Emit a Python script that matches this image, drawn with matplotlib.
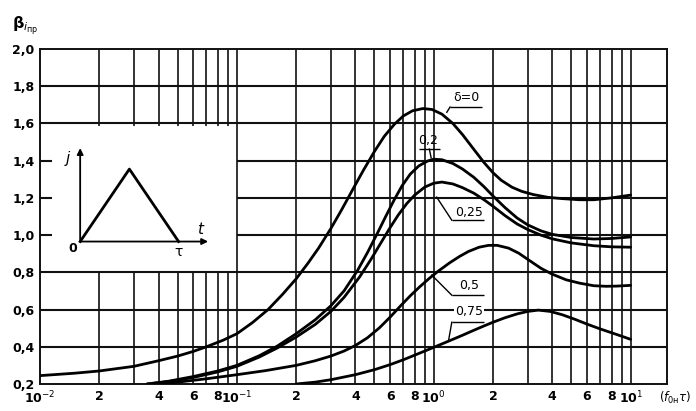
import matplotlib
matplotlib.use("Agg")
import matplotlib.pyplot as plt

# ---- curve data (x = f0*tau, y = beta) ------------------------------------
x_d0 = [0.01, 0.015, 0.02, 0.03, 0.04, 0.05, 0.06, 0.07, 0.085, 0.1, 0.12,
        0.144, 0.17, 0.2, 0.23, 0.26, 0.3, 0.34, 0.39, 0.44, 0.5, 0.56, 0.63,
        0.7, 0.78, 0.88, 0.98, 1.1, 1.25, 1.4, 1.6, 1.8, 2.0, 2.2, 2.5, 2.8,
        3.2, 3.8, 4.5, 5.5, 6.5, 8.0, 10.0]
y_d0 = [0.245, 0.258, 0.27, 0.295, 0.325, 0.35, 0.375, 0.40, 0.435, 0.47, 0.53,
        0.60, 0.68, 0.765, 0.85, 0.93, 1.035, 1.135, 1.25, 1.35, 1.45, 1.53,
        1.595, 1.64, 1.668, 1.68, 1.675, 1.65, 1.60, 1.54, 1.46, 1.39, 1.335,
        1.295, 1.257, 1.235, 1.218, 1.203, 1.196, 1.19, 1.19, 1.20, 1.215]

x_d02 = [0.035, 0.045, 0.06, 0.08, 0.1, 0.13, 0.16, 0.2, 0.25, 0.3, 0.35,
         0.41, 0.46, 0.52, 0.57, 0.63, 0.69, 0.76, 0.84, 0.93, 1.0, 1.1, 1.25,
         1.4, 1.6, 1.8, 2.0, 2.3, 2.65, 3.0, 3.5, 4.0, 5.0, 6.5, 8.0, 10.0]
y_d02 = [0.20, 0.215, 0.24, 0.27, 0.30, 0.352, 0.403, 0.47, 0.545, 0.62, 0.70,
         0.81, 0.905, 1.015, 1.10, 1.19, 1.265, 1.328, 1.372, 1.398, 1.408,
         1.405, 1.385, 1.355, 1.31, 1.26, 1.21, 1.148, 1.092, 1.055, 1.023,
         1.004, 0.987, 0.979, 0.982, 0.99]

x_d025 = [0.035, 0.045, 0.06, 0.08, 0.1, 0.13, 0.16, 0.2, 0.25, 0.3, 0.35,
          0.42, 0.48, 0.54, 0.6, 0.66, 0.73, 0.8, 0.9, 1.0, 1.1, 1.25, 1.4,
          1.6, 1.8, 2.0, 2.3, 2.65, 3.0, 3.5, 4.0, 5.0, 6.5, 8.0, 10.0]
y_d025 = [0.20, 0.213, 0.235, 0.265, 0.295, 0.345, 0.393, 0.452, 0.52, 0.59,
          0.665, 0.775, 0.87, 0.96, 1.04, 1.108, 1.17, 1.215, 1.258, 1.279,
          1.285, 1.275, 1.255, 1.225, 1.19, 1.155, 1.105, 1.06, 1.03, 1.00,
          0.98, 0.958, 0.943, 0.937, 0.935]

x_d05 = [0.04, 0.05, 0.07, 0.1, 0.14, 0.2, 0.25, 0.3, 0.35, 0.4, 0.46, 0.53,
         0.6, 0.68, 0.76, 0.85, 0.95, 1.05, 1.2, 1.35, 1.5, 1.7, 1.9, 2.1,
         2.4, 2.7, 3.0, 3.5, 4.0, 4.7, 5.5, 6.5, 7.5, 8.5, 10.0]
y_d05 = [0.20, 0.21, 0.228, 0.25, 0.272, 0.30, 0.325, 0.35, 0.377, 0.407,
         0.448, 0.502, 0.559, 0.621, 0.674, 0.723, 0.768, 0.805, 0.85, 0.885,
         0.912, 0.935, 0.945, 0.945, 0.93, 0.903, 0.87, 0.822, 0.79, 0.76,
         0.742, 0.728, 0.725, 0.726, 0.73]

x_d075 = [0.2, 0.25, 0.3, 0.4, 0.5, 0.6, 0.7, 0.8, 0.9, 1.0, 1.2, 1.4, 1.6,
          1.8, 2.0, 2.3, 2.66, 3.0, 3.4, 3.9, 4.5, 5.2, 6.0, 7.0, 8.5, 10.0]
y_d075 = [0.20, 0.21, 0.223, 0.25, 0.277, 0.304, 0.33, 0.355, 0.377, 0.397,
          0.432, 0.462, 0.489, 0.512, 0.532, 0.556, 0.577, 0.59, 0.597, 0.59,
          0.572, 0.548, 0.522, 0.496, 0.466, 0.44]

curves = [(x_d0, y_d0), (x_d02, y_d02), (x_d025, y_d025),
          (x_d05, y_d05), (x_d075, y_d075)]

# curve labels: text, text pos, underline x-range, leader end point
labels = ["δ=0", "0,2", "0,25", "0,5", "0,75"]
label_xy = [(1.47, 1.742), (0.94, 1.51), (1.51, 1.124), (1.51, 0.731), (1.51, 0.591)]
under_y = [1.688, 1.462, 1.08, 0.677, 0.532]
under_x = [(1.21, 1.76), (0.84, 1.07), (1.235, 1.80), (1.235, 1.80), (1.235, 1.80)]
leader_from = [(1.21, 1.688), (0.95, 1.462), (1.235, 1.08), (1.235, 0.677), (1.235, 0.532)]
leader_to = [(1.165, 1.66), (0.97, 1.415), (1.035, 1.204), (0.977, 0.785), (1.19, 0.436)]

y_ticks = [0.2, 0.4, 0.6, 0.8, 1.0, 1.2, 1.4, 1.6, 1.8, 2.0]
y_ticklabels = ["0,2", "0,4", "0,6", "0,8", "1,0", "1,2", "1,4", "1,6", "1,8", "2,0"]
x_ticks = [0.01, 0.02, 0.04, 0.06, 0.08, 0.1, 0.2, 0.4, 0.6, 0.8,
           1, 2, 4, 6, 8, 10]
x_ticklabels = [r"10$^{-2}$", "2", "4", "6", "8", r"10$^{-1}$", "2", "4", "6", "8",
                r"10$^{0}$", "2", "4", "6", "8", r"10$^{1}$"]

# pulse shape for the inset sketch
pulse_t = [0.0, 0.5, 1.0]
pulse_j = [0.0, 1.0, 0.0]

INK = "#111111"

fig = plt.figure(figsize=(6.96, 4.11), dpi=100)
ax = fig.add_axes([40 / 696, 1 - 384 / 411, 627 / 696, 335 / 411])
ax.set_xscale("log")
ax.set_xlim(0.01, 15.3)
ax.set_ylim(0.2, 2.0)

# ---- grid, leaving the inset box (0.01..0.1, 0.8..1.6) blank --------------
grid_x = [m * 10.0 ** k for k in (-2, -1, 0) for m in range(1, 10)] + [10.0]
for gx in grid_x[1:]:
    if gx < 0.099:
        ax.vlines(gx, 0.2, 0.8, color=INK, lw=1.2, zorder=1)
        ax.vlines(gx, 1.585, 2.0, color=INK, lw=1.2, zorder=1)
    else:
        ax.vlines(gx, 0.2, 2.0, color=INK, lw=1.2, zorder=1)
for gy in y_ticks[1:-1]:
    if 0.9 < gy < 1.5:
        ax.hlines(gy, 0.1, 15.3, color=INK, lw=1.5, zorder=1)
        ax.hlines(gy, 0.01, 0.0115, color=INK, lw=1.5, zorder=1)
    else:
        ax.hlines(gy, 0.01, 15.3, color=INK, lw=1.5, zorder=1)

for sp in ax.spines.values():
    sp.set_color(INK)
    sp.set_linewidth(1.4)

# ---- curves ---------------------------------------------------------------
for xs, ys in curves:
    ax.plot(xs, ys, color="black", lw=2.0, solid_capstyle="round",
            solid_joinstyle="round", zorder=3)

for i, txt in enumerate(labels):
    bbox = dict(facecolor="white", edgecolor="none", pad=0.5) if i == 4 else None
    ax.text(*label_xy[i], txt, fontsize=9, ha="center", va="center",
            zorder=4, bbox=bbox)
    ax.hlines(under_y[i], *under_x[i], color="black", lw=1.0, zorder=4)
    ax.plot([leader_from[i][0], leader_to[i][0]],
            [leader_from[i][1], leader_to[i][1]], color="black", lw=1.0, zorder=4)

# ---- ticks and axis texts -------------------------------------------------
ax.set_yticks(y_ticks)
ax.set_yticklabels(y_ticklabels, fontsize=9, fontweight="bold")
ax.set_xticks(x_ticks)
ax.set_xticklabels(x_ticklabels, fontsize=9, fontweight="bold")
ax.minorticks_off()
ax.tick_params(length=0, pad=4)

ax.annotate(r"$(f_{0\mathrm{н}}\tau)$", xy=(16.9, 0), xycoords=("data", "axes fraction"),
            xytext=(0, -4), textcoords="offset points", fontsize=8.5,
            ha="center", va="top", annotation_clip=False)
fig.text(12 / 696, 1 - 26 / 411, r"$\mathbf{\beta}_{i_{\mathrm{пр}}}$", fontsize=11.5,
         ha="left", va="center")

# ---- inset pulse sketch ---------------------------------------------------
ins = ax.inset_axes([0.01, 0.8, 0.09, 0.8], transform=ax.transData)
ins.set_xlim(-0.408, 1.592)
ins.set_ylim(-0.425, 1.63)
ins.axis("off")
ins.patch.set_alpha(0)
ins.plot(pulse_t, pulse_j, color="black", lw=2.0)
arrow = dict(arrowstyle="-|>", lw=1.3, color="black", mutation_scale=9,
             shrinkA=0, shrinkB=0)
ins.annotate("", xy=(0, 1.29), xytext=(0, 0), arrowprops=arrow)
ins.annotate("", xy=(1.3, 0), xytext=(0, 0), arrowprops=arrow)
ins.text(-0.13, 1.15, "j", fontsize=11, style="italic", ha="center", va="center")
ins.text(-0.08, -0.09, "0", fontsize=9, fontweight="bold", ha="center", va="center")
ins.text(1.22, 0.16, "t", fontsize=11, style="italic", ha="center", va="center")
ins.text(1.0, -0.15, "τ", fontsize=10, ha="center", va="center")

fig.savefig("out.png", dpi=100)
